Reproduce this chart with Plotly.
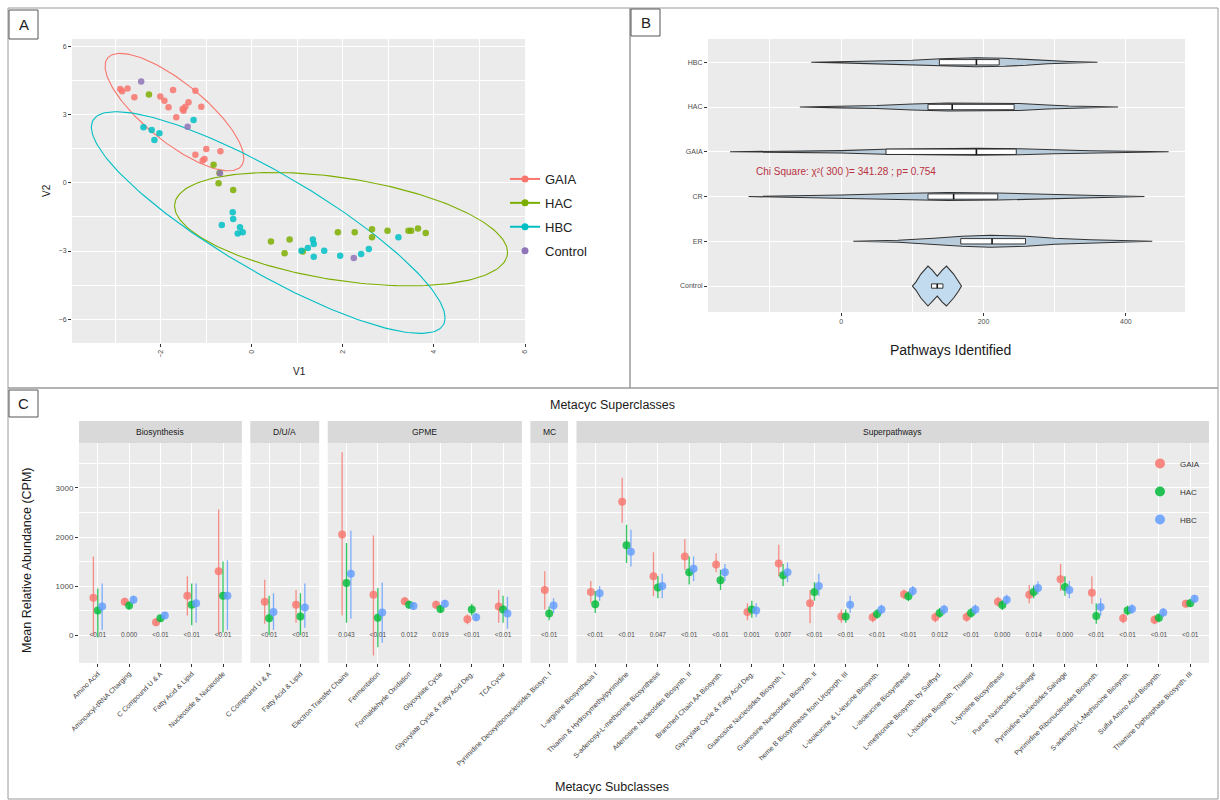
import numpy as np
import plotly.graph_objects as go

W, H = 1220, 800
FONT = "Liberation Sans, Arial, sans-serif"

# ---------------- Panel A: ordination scores ----------------
GAIA_V1 = [-2.89, -2.73, -2.85, -2.58, -2.01, -1.92, -1.83, -1.73, -1.66, -1.52, -1.46, -1.50,
           -1.39, -1.24, -1.11, -1.24, -1.04, -1.00, -0.69, -1.08]
GAIA_V2 = [4.11, 4.14, 4.01, 3.75, 3.78, 3.60, 3.31, 4.07, 2.87, 3.24, 3.34, 3.16,
           3.53, 4.04, 3.34, 1.23, 1.04, 1.48, 1.38, 0.97]
HAC_V1 = [-2.26, -0.84, -0.71, -0.73, -0.41, 0.42, 0.83, 0.72, 1.12, 1.89, 2.26, 2.64, 2.64,
          2.98, 3.44, 3.65, 3.82, 3.50]
HAC_V2 = [3.87, 0.79, 0.42, -0.03, -0.32, -2.58, -2.49, -3.10, -3.02, -2.18, -2.18, -2.05, -2.40,
          -2.11, -2.11, -2.01, -2.21, -2.11]
HBC_V1 = [-2.38, -2.20, -2.03, -2.14, -1.28, -0.42, -0.41, -0.66, -0.26, -0.20, -0.31, 1.34,
          1.36, 1.23, 1.36, 1.59, 1.94, 2.40, 2.57, 3.22, 1.09]
HBC_V2 = [2.43, 2.31, 2.17, 1.87, 2.75, -1.30, -1.60, -1.86, -1.96, -2.18, -2.23, -2.49,
          -2.69, -2.87, -3.25, -2.99, -3.21, -3.13, -2.91, -2.40, -2.99]
CONTROL_V1 = [-2.43, -1.41, -0.70, 2.24]
CONTROL_V2 = [4.44, 2.46, 0.41, -3.31]

# 95% ellipses: centre and covariance (data units)
ELL_GROUP = ["GAIA", "HAC", "HBC"]
ELL_CX = [-1.70, 1.96, 0.36]
ELL_CY = [3.10, -2.04, -1.75]
ELL_SXX = [2.32, 13.37, 15.09]
ELL_SYY = [6.66, 6.20, 23.70]
ELL_SXY = [-3.07, -3.73, -16.27]

A_TICKS_X = [-2, 0, 2, 4, 6]
A_TICKS_Y = [-6, -3, 0, 3, 6]

# ---------------- Panel B: violins ----------------
B_GROUPS = ["Control", "ER", "CR", "GAIA", "HAC", "HBC"]
# violin profile: value knots and half-thickness (px)
VIO_X = {
    "HBC": [-42, 0, 50, 100, 140, 190, 230, 260, 290, 320, 360],
    "HAC": [-58, 0, 50, 100, 150, 200, 250, 290, 320, 389],
    "GAIA": [-156, -100, 0, 60, 120, 190, 250, 300, 350, 460],
    "CR": [-130, -50, 0, 80, 150, 220, 300, 360, 426],
    "ER": [17, 80, 130, 170, 210, 260, 300, 350, 437],
    "Control": [100, 105, 112, 122, 128, 135, 142, 148, 158, 165, 169],
}
VIO_HW = {
    "HBC": [0, 0.6, 1.2, 2.0, 3.5, 4.5, 4.0, 3.0, 1.5, 0.8, 0],
    "HAC": [0, 0.8, 1.5, 3.0, 4.0, 3.8, 3.5, 2.0, 1.0, 0],
    "GAIA": [0, 0.5, 1.2, 2.5, 3.0, 3.5, 3.0, 2.0, 1.0, 0],
    "CR": [0, 0.6, 1.5, 3.0, 4.0, 3.5, 2.5, 1.0, 0],
    "ER": [0, 1.0, 3.0, 5.0, 6.0, 5.0, 3.0, 1.5, 0],
    "Control": [0, 4, 12, 20, 16, 10, 16, 20, 12, 5, 0],
}
BOX_Q1 = {"Control": 127, "ER": 168, "CR": 122, "GAIA": 63, "HAC": 122, "HBC": 138}
BOX_MED = {"Control": 135, "ER": 212, "CR": 158, "GAIA": 190, "HAC": 156, "HBC": 190}
BOX_Q3 = {"Control": 143, "ER": 259, "CR": 220, "GAIA": 246, "HAC": 243, "HBC": 222}
B_TICKS_X = [0, 200, 400]
CHI_TEXT = "Chi Square: χ²( 300 )= 341.28 ; p= 0.754"

# ---------------- Panel C: pathway abundance ----------------
SUPERCLASS = ["Biosynthesis"] * 5 + ["D/U/A"] * 2 + ["GPME"] * 6 + ["MC"] * 1 + ["Superpathways"] * 20
SUBCLASS = [
    "Amino Acid", "Aminoacyl-tRNA Charging", "C Compound U & A", "Fatty Acid & Lipid", "Nucleoside & Nucleotide",
    "C Compound U & A", "Fatty Acid & Lipid",
    "Electron Transfer Chains", "Fermentation", "Formaldehyde Oxidation", "Glyoxylate Cycle",
    "Glyoxylate Cycle & Fatty Acid Deg.", "TCA Cycle",
    "Pyrimidine Deoxyribonucleotides Biosyn. I",
    "L-arginine Biosynthesis I", "Thiamin & Hydroxymethylpyrimidine", "S-adenosyl-L-methionine Biosynthesis",
    "Adenosine Nucleotides Biosynth. II", "Branched Chain AA Biosynth.", "Glyoxylate Cycle & Fatty Acid Deg.",
    "Guanosine Nucleotides Biosynth. I", "Guanosine Nucleotides Biosynth. II", "heme B Biosynthesis from Uroporph. III",
    "L-isoleucine & L-leucine Biosynth.", "L-isoleucine Biosynthesis", "L-methionine Biosynth. by Sulfhyd.",
    "L-histidine Biosynth. Thiamin", "L-tyrosine Biosynthesis", "Purine Nucleotides Salvage",
    "Pyrimidine Nucleotides Salvage", "Pyrimidine Ribonucleotides Biosynth.", "S-adenosyl-L-Methionine Biosynth.",
    "Sulfur Amino Acid Biosynth.", "Thiamine Diphosphate Biosynth. III",
]
PVAL = ["<0.01", "0.000", "<0.01", "<0.01", "<0.01",
        "<0.01", "<0.01",
        "0.043", "<0.01", "0.012", "0.019", "<0.01", "<0.01",
        "<0.01",
        "<0.01", "<0.01", "0.047", "<0.01", "<0.01", "0.001", "0.007", "<0.01", "<0.01", "<0.01",
        "<0.01", "0.012", "<0.01", "0.000", "0.014", "0.000", "<0.01", "<0.01", "<0.01", "<0.01"]
GAIA_MEAN = [760, 680, 260, 800, 1300, 680, 620, 2050, 820, 690, 620, 320, 580, 920,
             880, 2720, 1200, 1600, 1440, 470, 1460, 650, 380, 360, 830, 360, 370, 680, 820, 1140, 860, 340, 310, 640]
GAIA_LO = [-20, 600, 190, 400, 0, 230, 250, 400, -420, 610, 540, 220, 250, 520,
           650, 2290, 790, 1330, 1280, 300, 1200, 240, 250, 260, 730, 260, 270, 580, 650, 900, 640, 240, 220, 560]
GAIA_HI = [1600, 760, 330, 1200, 2560, 1130, 920, 3730, 2030, 770, 700, 420, 920, 1300,
           1100, 3210, 1690, 1960, 1670, 650, 1840, 920, 520, 460, 930, 460, 470, 780, 1020, 1450, 1200, 440, 400, 720]
HAC_MEAN = [500, 600, 340, 620, 800, 340, 380, 1060, 350, 620, 530, 520, 520, 440,
            630, 1830, 970, 1280, 1120, 520, 1220, 880, 380, 430, 790, 450, 450, 610, 880, 980, 390, 500, 350, 650]
HAC_LO = [-50, 520, 270, 200, 50, 0, 0, 250, -250, 540, 450, 400, 250, 300,
          450, 1470, 750, 1030, 920, 350, 1000, 700, 250, 330, 690, 350, 350, 510, 750, 800, 230, 400, 260, 570]
HAC_HI = [950, 680, 410, 1050, 1500, 800, 850, 1880, 960, 700, 610, 640, 800, 580,
          900, 2250, 1200, 1600, 1330, 700, 1450, 1080, 520, 530, 890, 550, 550, 710, 1010, 1200, 650, 600, 440, 730]
HBC_MEAN = [580, 720, 400, 650, 800, 470, 560, 1250, 460, 590, 640, 360, 440, 600,
            850, 1700, 1000, 1350, 1280, 500, 1280, 1000, 620, 520, 900, 520, 520, 720, 960, 920, 570, 530, 460, 740]
HBC_LO = [100, 640, 330, 250, 100, 100, 150, 330, -160, 510, 560, 280, 130, 450,
          700, 1400, 750, 1100, 1100, 360, 1080, 800, 450, 420, 800, 420, 420, 620, 830, 750, 400, 430, 370, 660]
HBC_HI = [1050, 800, 470, 1050, 1520, 850, 1050, 2130, 1070, 670, 720, 440, 780, 750,
          1000, 2150, 1250, 1600, 1450, 650, 1480, 1250, 800, 620, 1000, 620, 620, 820, 1090, 1100, 750, 630, 550, 820]
C_TICKS_Y = [0, 1000, 2000, 3000]

A_COLORS = {"GAIA": "#F8766D", "HAC": "#7CAE00", "HBC": "#00BFC4", "Control": "#8F74B8"}
C_COLORS = {"GAIA": "#F8766D", "HAC": "#00BA38", "HBC": "#619CFF"}
BG = "#EBEBEB"
TICKC = "#4D4D4D"


def PX(x):
    return x / W


def PY(y):
    return 1 - y / H


def rgba(hexc, a):
    h = hexc.lstrip("#")
    return "rgba(%d,%d,%d,%s)" % (int(h[0:2], 16), int(h[2:4], 16), int(h[4:6], 16), a)


fig = go.Figure()

# ---------- Panel A traces ----------
A_DATA = {"GAIA": (GAIA_V1, GAIA_V2), "HAC": (HAC_V1, HAC_V2), "HBC": (HBC_V1, HBC_V2),
          "Control": (CONTROL_V1, CONTROL_V2)}
t = np.linspace(0, 2 * np.pi, 200)
for g, cx, cy, sxx, syy, sxy in zip(ELL_GROUP, ELL_CX, ELL_CY, ELL_SXX, ELL_SYY, ELL_SXY):
    L = np.linalg.cholesky(np.array([[sxx, sxy], [sxy, syy]]))
    pts = L @ np.vstack([np.cos(t), np.sin(t)])
    fig.add_trace(go.Scatter(x=cx + pts[0], y=cy + pts[1], mode="lines", xaxis="x", yaxis="y",
                             line=dict(color=A_COLORS[g], width=1.1), showlegend=False, hoverinfo="skip"))
for g, (vx, vy) in A_DATA.items():
    fig.add_trace(go.Scatter(x=vx, y=vy, mode="markers", xaxis="x", yaxis="y",
                             marker=dict(color=A_COLORS[g], size=6.5, opacity=0.85), showlegend=False))
for g in ["GAIA", "HAC", "HBC", "Control"]:
    fig.add_trace(go.Scatter(x=[None], y=[None], mode="lines+markers" if g != "Control" else "markers",
                             xaxis="x", yaxis="y", name=g, legend="legend", legendgroup="a" + g,
                             marker=dict(color=A_COLORS[g], size=7, symbol="circle"),
                             line=dict(color=A_COLORS[g], width=2)))

# ---------- Panel B traces ----------
BOX_HALF = 0.06
for i, g in enumerate(B_GROUPS):
    pos = i + 1
    xs = np.array(VIO_X[g], float)
    hw = np.array(VIO_HW[g], float) / 44.8
    fill = "#C3DBEF" if g == "Control" else "#B9CCDB"
    fig.add_trace(go.Scatter(x=np.concatenate([xs, xs[::-1]]), y=np.concatenate([pos + hw, (pos - hw)[::-1]]),
                             mode="lines", fill="toself", fillcolor=fill, xaxis="x2", yaxis="y2",
                             line=dict(color="#333333", width=1.1), showlegend=False, hoverinfo="skip"))
    bh = BOX_HALF * (0.8 if g == "Control" else 1.0)
    q1, q3, md = BOX_Q1[g], BOX_Q3[g], BOX_MED[g]
    fig.add_trace(go.Scatter(x=[q1, q3, q3, q1, q1], y=[pos - bh, pos - bh, pos + bh, pos + bh, pos - bh],
                             mode="lines", fill="toself", fillcolor="white", xaxis="x2", yaxis="y2",
                             line=dict(color="#222222", width=0.9), showlegend=False, hoverinfo="skip"))
    fig.add_trace(go.Scatter(x=[md, md], y=[pos - bh, pos + bh], mode="lines", xaxis="x2", yaxis="y2",
                             line=dict(color="#111111", width=1.6), showlegend=False, hoverinfo="skip"))

# ---------- Panel C traces ----------
FACETS = ["Biosynthesis", "D/U/A", "GPME", "MC", "Superpathways"]
counts = [SUPERCLASS.count(f) for f in FACETS]
c_left, c_right, gap = 79, 1209, 8.5
unit = (c_right - c_left - gap * (len(FACETS) - 1)) / (sum(counts) + 0.2 * len(FACETS))
C_GROUPS = {"GAIA": (GAIA_MEAN, GAIA_LO, GAIA_HI), "HAC": (HAC_MEAN, HAC_LO, HAC_HI),
            "HBC": (HBC_MEAN, HBC_LO, HBC_HI)}
DODGE = {"GAIA": -0.14, "HAC": 0.0, "HBC": 0.14}

facet_domains = []
x0 = c_left
for k, f in enumerate(FACETS):
    wpx = (counts[k] + 0.2) * unit
    facet_domains.append((PX(x0), PX(x0 + wpx)))
    x0 += wpx + gap

for k, f in enumerate(FACETS):
    idx = [i for i, s in enumerate(SUPERCLASS) if s == f]
    pos = np.arange(1, len(idx) + 1)
    xa, ya = "x%d" % (k + 3), "y%d" % (k + 3)
    for g, (m, lo, hi) in C_GROUPS.items():
        mm = np.array([m[i] for i in idx], float)
        ll = np.array([lo[i] for i in idx], float)
        hh = np.array([hi[i] for i in idx], float)
        fig.add_trace(go.Scatter(x=pos + DODGE[g], y=mm, mode="markers", xaxis=xa, yaxis=ya,
                                 marker=dict(color=C_COLORS[g], size=8, opacity=0.8),
                                 error_y=dict(type="data", array=hh - mm, arrayminus=mm - ll,
                                              color=rgba(C_COLORS[g], 0.8), thickness=1.3, width=0),
                                 showlegend=False))
    fig.add_trace(go.Scatter(x=pos, y=[0] * len(idx), mode="text", text=[PVAL[i] for i in idx],
                             xaxis=xa, yaxis=ya, textfont=dict(size=6.5, color=TICKC, family=FONT),
                             showlegend=False, hoverinfo="skip"))

for g in ["GAIA", "HAC", "HBC"]:
    fig.add_trace(go.Scatter(x=[None], y=[None], mode="markers", name=g, legend="legend2",
                             legendgroup="c" + g, xaxis="x3", yaxis="y3",
                             marker=dict(color=C_COLORS[g], size=10, opacity=0.85)))

# ---------- Layout ----------
grid = dict(showgrid=True, gridcolor="white", gridwidth=1, zeroline=False, showline=False,
            ticks="outside", ticklen=3, tickcolor="#333333", automargin=False)
layout = dict(
    width=W, height=H, margin=dict(l=0, r=0, t=0, b=0), template="none",
    paper_bgcolor="white", plot_bgcolor=BG, font=dict(family=FONT, color="#1A1A1A"),
    xaxis=dict(domain=[PX(72), PX(525)], range=[-3.95, 6.0], anchor="y", tickvals=A_TICKS_X,
               tickfont=dict(size=7, color=TICKC), tickangle=-90,
               minor=dict(tickvals=[-3, -1, 1, 3, 5], showgrid=True, gridcolor="white", gridwidth=0.5, ticks=""),
               **grid),
    yaxis=dict(domain=[PY(343), PY(39)], range=[-7.04, 6.31], anchor="x", tickvals=A_TICKS_Y,
               tickfont=dict(size=7, color=TICKC),
               minor=dict(tickvals=[-4.5, -1.5, 1.5, 4.5], showgrid=True, gridcolor="white", gridwidth=0.5, ticks=""),
               **grid),
    xaxis2=dict(domain=[PX(708), PX(1185)], range=[-187, 483], anchor="y2", tickvals=B_TICKS_X,
                tickfont=dict(size=7, color=TICKC),
                minor=dict(tickvals=[-100, 100, 300], showgrid=True, gridcolor="white", gridwidth=0.5, ticks=""),
                **grid),
    yaxis2=dict(domain=[PY(312), PY(39)], range=[0.42, 6.52], anchor="x2",
                tickvals=list(range(1, len(B_GROUPS) + 1)), ticktext=B_GROUPS,
                tickfont=dict(size=7, color=TICKC), **grid),
    legend=dict(x=PX(505), y=PY(164), xanchor="left", yanchor="top", font=dict(size=13, color="#222"),
                bgcolor="rgba(0,0,0,0)", tracegroupgap=4, itemwidth=30),
    legend2=dict(x=PX(1140), y=PY(449), xanchor="left", yanchor="top", font=dict(size=8, color="#333"),
                 bgcolor="rgba(0,0,0,0)", tracegroupgap=9, itemwidth=30),
)
for k, f in enumerate(FACETS):
    n = counts[k]
    idx = [i for i, s in enumerate(SUPERCLASS) if s == f]
    layout["xaxis%d" % (k + 3)] = dict(domain=list(facet_domains[k]), range=[0.4, n + 0.6], anchor="y%d" % (k + 3),
                                       tickvals=list(range(1, n + 1)), ticktext=[SUBCLASS[i] for i in idx],
                                       tickangle=-45, tickfont=dict(size=7, color="#3a3a3a"), **grid)
    yd = dict(domain=[PY(663), PY(443)], range=[-571, 3918], anchor="x%d" % (k + 3), tickvals=C_TICKS_Y,
              tickfont=dict(size=8, color=TICKC),
              minor=dict(tickvals=[500, 1500, 2500, 3500], showgrid=True, gridcolor="white", gridwidth=0.5, ticks=""),
              **grid)
    if k > 0:
        yd["matches"] = "y3"
        yd["showticklabels"] = False
        yd["ticks"] = ""
    layout["yaxis%d" % (k + 3)] = yd
fig.update_layout(**layout)

shapes = []
ann = []
# panel frames
for (x0_, y0_, x1_, y1_) in [(8, 8, 630, 388), (630, 8, 1218, 388), (8, 388, 1218, 799)]:
    shapes.append(dict(type="rect", xref="paper", yref="paper", x0=PX(x0_), x1=PX(x1_), y0=PY(y1_), y1=PY(y0_),
                       line=dict(color="#9a9a9a", width=1), layer="below"))
# panel letters
for lab, (x0_, y0_, x1_, y1_) in zip("ABC", [(9, 10, 38, 39), (631, 9, 660, 36), (9, 390, 38, 417)]):
    shapes.append(dict(type="rect", xref="paper", yref="paper", x0=PX(x0_), x1=PX(x1_), y0=PY(y1_), y1=PY(y0_),
                       line=dict(color="#555555", width=1), fillcolor="white"))
    ann.append(dict(text=lab, x=PX((x0_ + x1_) / 2), y=PY((y0_ + y1_) / 2), xref="paper", yref="paper",
                    showarrow=False, font=dict(size=15, color="#222")))
# facet strips
for k, f in enumerate(FACETS):
    shapes.append(dict(type="rect", xref="x%d domain" % (k + 3), yref="paper", x0=0, x1=1, y0=PY(443), y1=PY(421),
                       fillcolor="#D9D9D9", line=dict(width=0)))
    ann.append(dict(text=f, xref="x%d domain" % (k + 3), yref="paper", x=0.5, y=PY(432), showarrow=False,
                    font=dict(size=8.5, color="#1A1A1A")))
# titles
ann += [
    dict(text="V1", x=PX(299), y=PY(371), xref="paper", yref="paper", showarrow=False, font=dict(size=10)),
    dict(text="V2", x=PX(46), y=PY(191), xref="paper", yref="paper", showarrow=False, textangle=-90,
         font=dict(size=10)),
    dict(text="Pathways Identified", x=PX(950), y=PY(350), xref="paper", yref="paper", showarrow=False,
         font=dict(size=14)),
    dict(text=CHI_TEXT, x=6.3, y=3.57, xref="x2", yref="y2", showarrow=False,
         font=dict(size=10, color="#B8313F")),
    dict(text="Metacyc Superclasses", x=PX(612), y=PY(405), xref="paper", yref="paper", showarrow=False,
         font=dict(size=12.5)),
    dict(text="Metacyc Subclasses", x=PX(612), y=PY(787), xref="paper", yref="paper", showarrow=False,
         font=dict(size=12.5)),
    dict(text="Mean Relative Abundance (CPM)", x=PX(27), y=PY(560), xref="paper", yref="paper", showarrow=False,
         textangle=-90, font=dict(size=12.5)),
]
for a in ann:
    a["xanchor"] = "center"
    a["yanchor"] = "middle"
fig.update_layout(shapes=shapes, annotations=ann)
fig.write_html("out.html", config={"displayModeBar": False},
               post_script="document.body.style.margin='0';")
